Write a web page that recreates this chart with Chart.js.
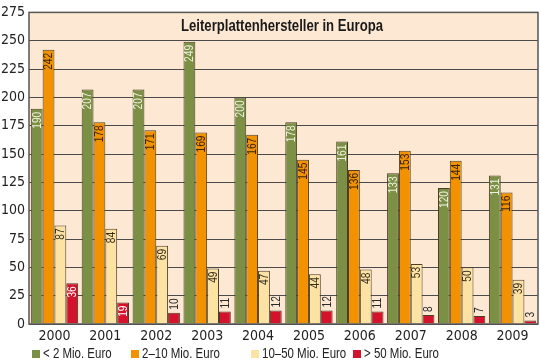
<!DOCTYPE html>
<html>
<head>
<meta charset="utf-8">
<script src="https://cdn.jsdelivr.net/npm/chart.js@4"></script>
<style>
  html, body { margin: 0; padding: 0; background: #fff; }
  #wrap { width: 540px; height: 362px; }
</style>
</head>
<body>
<div id="wrap"><canvas id="c"></canvas></div>
<script>
const years = ['2000', '2001', '2002', '2003', '2004', '2005', '2006', '2007', '2008', '2009'];
const under2 = [190, 207, 207, 249, 200, 178, 161, 133, 120, 131];
const from2to10 = [242, 178, 171, 169, 167, 145, 136, 153, 144, 116];
const from10to50 = [87, 84, 69, 49, 47, 44, 48, 53, 50, 39];
const over50 = [36, 19, 10, 11, 12, 12, 11, 8, 7, 3];
const seriesNames = ['< 2 Mio. Euro', '2–10 Mio. Euro', '10–50 Mio. Euro', '> 50 Mio. Euro'];
const chartTitle = 'Leiterplattenhersteller in Europa';

const FONT = "'DejaVu Sans Condensed', 'Liberation Sans', sans-serif";
const colors = ['#7b8f45', '#f39200', '#fde3a3', '#d4122b'];

// plot background + frame
const plotBg = {
    id: 'plotBg',
    beforeDraw(chart) {
        const { ctx, chartArea: a } = chart;
        ctx.save();
        ctx.fillStyle = '#fde9d3';
        ctx.fillRect(a.left, a.top, a.right - a.left, a.bottom - a.top);
        ctx.restore();
    },
    afterDraw(chart) {
        const { ctx, chartArea: a } = chart;
        ctx.save();
        ctx.strokeStyle = '#555';
        ctx.lineWidth = 1.5;
        ctx.strokeRect(a.left, a.top, a.right - a.left, a.bottom - a.top);
        ctx.restore();
    }
};

// condensed text helper
function narrowText(ctx, txt, x, y, sx) {
    ctx.save();
    ctx.translate(x, y);
    ctx.scale(sx, 1);
    ctx.fillText(txt, 0, 0);
    ctx.restore();
}

const titleInside = {
    id: 'titleInside',
    afterDatasetsDraw(chart) {
        const { ctx } = chart;
        ctx.save();
        ctx.font = "bold 16px 'Liberation Sans', sans-serif";
        ctx.fillStyle = '#1a1a1a';
        ctx.textAlign = 'center';
        ctx.textBaseline = 'middle';
        narrowText(ctx, chartTitle, 282, chart.scales.y.getPixelForValue(262.5), 0.82);
        ctx.restore();
    }
};

// legend drawn below the axis
const legendX = [32, 131, 251, 353];
const bottomLegend = {
    id: 'bottomLegend',
    afterDraw(chart) {
        const { ctx } = chart;
        const y = 354;
        ctx.save();
        ctx.font = "14px 'Liberation Sans', sans-serif";
        ctx.textBaseline = 'middle';
        ctx.textAlign = 'left';
        seriesNames.forEach((name, i) => {
            ctx.fillStyle = colors[i];
            ctx.fillRect(legendX[i], y - 4, 8, 8);
            ctx.fillStyle = '#222';
            narrowText(ctx, name, legendX[i] + 11, y, 0.82);
        });
        ctx.restore();
    }
};

// rotated value labels
const labelColors = ['#eef2dc', '#3a2408', '#3a3020', '#ffffff'];
const valueLabels = {
    id: 'valueLabels',
    afterDatasetsDraw(chart) {
        const { ctx } = chart;
        ctx.save();
        ctx.font = "12px 'Liberation Sans', sans-serif";
        chart.data.datasets.forEach((ds, di) => {
            chart.getDatasetMeta(di).data.forEach((bar, i) => {
                const txt = String(ds.data[i]);
                const w = ctx.measureText(txt).width * 0.85;
                const h = bar.base - bar.y;
                ctx.save();
                ctx.translate(bar.x, bar.y);
                ctx.rotate(-Math.PI / 2);
                ctx.scale(0.85, 1);
                ctx.textBaseline = 'middle';
                if (h >= w + 6) {
                    ctx.textAlign = 'right';
                    ctx.fillStyle = labelColors[di];
                    ctx.fillText(txt, -3 / 0.85, 0.5);
                } else {
                    ctx.textAlign = 'left';
                    ctx.fillStyle = '#2a2a2a';
                    ctx.fillText(txt, 3 / 0.85, 0.5);
                }
                ctx.restore();
            });
        });
        ctx.restore();
    }
};

const data = [under2, from2to10, from10to50, over50];

new Chart(document.getElementById('c'), {
    type: 'bar',
    data: {
        labels: years,
        datasets: data.map((d, i) => ({
            label: seriesNames[i],
            data: d,
            backgroundColor: colors[i],
            borderColor: '#4d3c28',
            borderWidth: { top: 1, left: 1, right: 1, bottom: 0 },
            categoryPercentage: 0.93,
            barPercentage: 1.0
        }))
    },
    options: {
        responsive: true,
        maintainAspectRatio: false,
        animation: false,
        layout: { padding: { top: 4, right: 2, left: 0, bottom: 20 } },
        plugins: {
            legend: { display: false },
            tooltip: { enabled: false }
        },
        scales: {
            x: {
                grid: { display: false, drawTicks: false },
                border: { display: false },
                ticks: { color: '#222', padding: 4, font: { family: FONT, size: 14 } },
                afterFit(scale) { scale.height = 18; }
            },
            y: {
                min: 0,
                max: 275,
                ticks: { stepSize: 25, color: '#222', padding: 4, font: { family: FONT, size: 14 } },
                grid: { color: '#4a4a4a', lineWidth: 1, drawTicks: false },
                border: { display: false },
                afterFit(scale) { scale.width = 29; }
            }
        }
    },
    plugins: [plotBg, titleInside, valueLabels, bottomLegend]
});
</script>
</body>
</html>
